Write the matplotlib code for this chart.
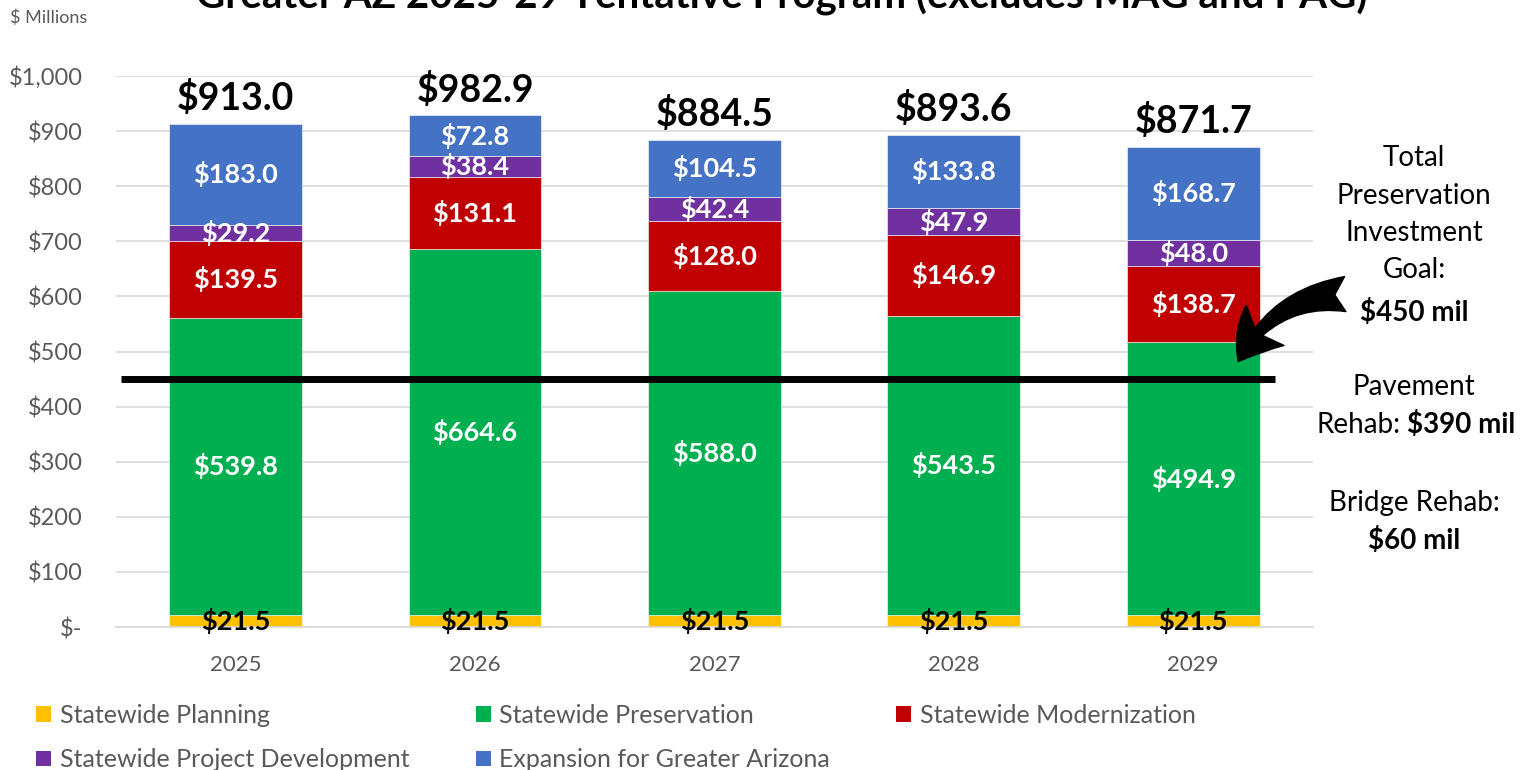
import numpy as np
import matplotlib.pyplot as plt
from matplotlib.patches import Patch

years = ['2025', '2026', '2027', '2028', '2029']
planning = [21.5, 21.5, 21.5, 21.5, 21.5]
preservation = [539.8, 664.6, 588.0, 543.5, 494.9]
modernization = [139.5, 131.1, 128.0, 146.9, 138.7]
project_dev = [29.2, 38.4, 42.4, 47.9, 48.0]
expansion = [183.0, 72.8, 104.5, 133.8, 168.7]
total_labels = ['$913.0', '$982.9', '$884.5', '$893.6', '$871.7']
goal = 450

series = [('Statewide Planning', planning, '#FFC000', 'black'),
          ('Statewide Preservation', preservation, '#00B050', 'white'),
          ('Statewide Modernization', modernization, '#C00000', 'white'),
          ('Statewide Project Development', project_dev, '#7030A0', 'white'),
          ('Expansion for Greater Arizona', expansion, '#4472C4', 'white')]

plt.rcParams['font.family'] = ['Lato', 'DejaVu Sans']
gray = '#595959'
W, H = 1524, 770

fig = plt.figure(figsize=(15.24, 7.7), dpi=100)
ax = fig.add_axes([0.0761, 0.1857, 0.7854, 0.7156])

x = np.arange(len(years))
bottom = np.zeros(len(years))
for name, vals, col, tcol in series:
    vals = np.array(vals)
    ax.bar(x, vals, 0.555, bottom=bottom, color=col, edgecolor='white', linewidth=0.4, zorder=2)
    for xi, b, v in zip(x, bottom, vals):
        ax.text(xi, b + v / 2, '${:.1f}'.format(v), ha='center', va='center',
                color=tcol, fontsize=19.5, fontweight='bold', zorder=4)
    bottom += vals

for xi, top, lab in zip(x, bottom, total_labels):
    ax.text(xi, top + 47, lab, ha='center', va='center', fontsize=27,
            fontweight='bold', color='black', zorder=4)

ax.plot([-0.48, 4.34], [goal, goal], color='black', lw=5, zorder=3, solid_capstyle='butt')

ax.set_xlim(-0.5, 4.5)
ax.set_ylim(0, 1000)
ax.set_yticks(np.arange(0, 1001, 100))
ax.set_yticklabels(['$-'] + ['${:,}'.format(v) for v in range(100, 1001, 100)])
ax.set_xticks(x)
ax.set_xticklabels(years)
ax.tick_params(axis='y', length=0, pad=24, labelsize=17, labelcolor=gray)
ax.tick_params(axis='x', length=0, pad=20, labelsize=16, labelcolor=gray)
ax.grid(axis='y', color='#D9D9D9', lw=1.2, zorder=0)
for s in ['top', 'right', 'left']:
    ax.spines[s].set_visible(False)
ax.spines['bottom'].set_color('#D9D9D9')
ax.spines['bottom'].set_linewidth(1.2)

# side annotations
cx = 1414 / W
for i, line in enumerate(['Total', 'Preservation', 'Investment', 'Goal:']):
    fig.text(cx, 1 - (158 + 37.5 * i) / H, line, ha='center', va='center', fontsize=20, color='black')
fig.text(cx, 1 - 312 / H, '$450 mil', ha='center', va='center', fontsize=20,
         fontweight='bold', color='black')
fig.text(cx, 1 - 387 / H, 'Pavement', ha='center', va='center', fontsize=20, color='black')
fig.text(1401 / W, 1 - 425 / H, 'Rehab:', ha='right', va='center', fontsize=20, color='black')
fig.text(1407 / W, 1 - 425 / H, '$390 mil', ha='left', va='center', fontsize=20,
         fontweight='bold', color='black')
fig.text(cx, 1 - 503 / H, 'Bridge Rehab:', ha='center', va='center', fontsize=20, color='black')
fig.text(cx, 1 - 540 / H, '$60 mil', ha='center', va='center', fontsize=20,
         fontweight='bold', color='black')

ax.annotate('', xy=(1237 / W, 1 - 364 / H), xycoords='figure fraction',
            xytext=(1348 / W, 1 - 294 / H), textcoords='figure fraction',
            arrowprops=dict(arrowstyle='fancy,head_length=0.9,head_width=1.1,tail_width=0.7',
                            connectionstyle='arc3,rad=0.3', color='black', mutation_scale=36))

fig.text(10 / W, 1 - 18 / H, '$ Millions', fontsize=13, color=gray, va='center', ha='left')
fig.text(0.513, 1 - 9 / H, 'Greater AZ 2025-29 Tentative Program (excludes MAG and PAG)',
         ha='center', va='baseline', fontsize=29, fontweight='bold', color='black')

# legend fills column by column, so order handles to read row-wise
order = [0, 3, 1, 4, 2]
handles = [Patch(facecolor=series[i][2], label=series[i][0]) for i in order]
fig.legend(handles=handles, loc='upper left', bbox_to_anchor=(36 / W, 1 - 704 / H), ncol=3,
           frameon=False, fontsize=18, labelcolor=gray, handlelength=0.6, handleheight=0.6,
           handletextpad=0.35, columnspacing=2.65, labelspacing=0.85, borderaxespad=0,
           borderpad=0)

fig.savefig('out.png', dpi=100)
